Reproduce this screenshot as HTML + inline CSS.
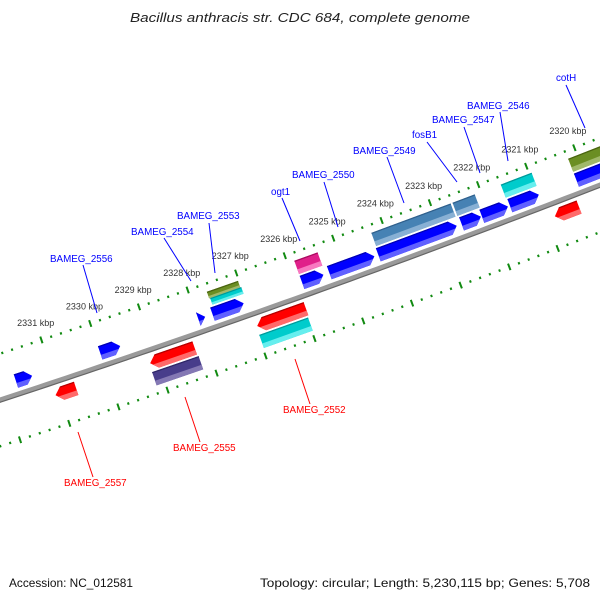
<!DOCTYPE html>
<html><head><meta charset="utf-8"><style>
html,body{margin:0;padding:0;background:#fff}
svg{display:block}
text{font-family:"Liberation Sans","DejaVu Sans",sans-serif}
</style></head><body>
<svg id="map" width="600" height="600" viewBox="0 0 600 600" xmlns="http://www.w3.org/2000/svg">
<text x="300" y="22" text-anchor="middle" font-size="12.5" font-style="italic" fill="#222" textLength="340" lengthAdjust="spacingAndGlyphs">Bacillus anthracis str. CDC 684, complete genome</text>
<g id="ticks"></g>
<g id="backbone"></g>
<g id="genes"></g>
<g id="labels"></g>
<text x="9" y="587" font-size="12" fill="#111" textLength="124" lengthAdjust="spacingAndGlyphs">Accession: NC_012581</text>
<text x="260" y="587" font-size="12" fill="#111" textLength="330" lengthAdjust="spacingAndGlyphs">Topology: circular; Length: 5,230,115 bp; Genes: 5,708</text>
</svg>
<script>
// ---- data (kbp) ----
const tickLabelKbp = [2320,2321,2322,2323,2324,2325,2326,2327,2328,2329,2330,2331];
const geneStart = [2331.39,2330.66,2329.59,2328.24,2328.22,2327.85,2327.06,2327.02,2327.00,2325.96,2325.98,2325.38,2325.42,2324.37,2322.63,2322.67,2322.13,2322.17,2321.61,2320.95,2320.97,2318.50,2318.50,2320.33];
const geneEnd   = [2331.72,2331.08,2330.00,2329.15,2329.17,2327.99,2327.70,2327.66,2327.64,2326.96,2326.98,2325.86,2325.86,2325.30,2324.27,2324.29,2322.59,2322.57,2322.15,2321.59,2321.57,2320.19,2320.19,2320.83];
const geneLane  = ["A","C","A","C","D","A","A","B2","B1","C","D","B","A","A","B","A","B","A","A","B","A","B","A","C"];
const geneColor = ["blue","red","blue","red","purple","blue","blue","olive","cyan","red","cyan","pink","blue","blue","steel","blue","steel","blue","blue","cyan","blue","olive","blue","red"];
const geneShape = ["fwd","rev","fwd","rev","box","fwd","fwd","box","box","rev","box","box","fwd","fwd","box","fwd","box","fwd","fwd","box","fwd","box","fwd","rev"];
const labelText = ["BAMEG_2556","BAMEG_2554","BAMEG_2553","ogt1","BAMEG_2550","BAMEG_2549","fosB1","BAMEG_2547","BAMEG_2546","cotH","BAMEG_2552","BAMEG_2555","BAMEG_2557"];
const labelColor= ["#0000ff","#0000ff","#0000ff","#0000ff","#0000ff","#0000ff","#0000ff","#0000ff","#0000ff","#0000ff","#ff0000","#ff0000","#ff0000"];

// ---- styles ----
const baseCol={blue:"#0000ff",red:"#ff0000",cyan:"#00cccc",olive:"#6b8e23",steel:"#4682b4",pink:"#e0208a",purple:"#483d8b"};
const lightCol={blue:"#6060ff",red:"#ff6a6a",cyan:"#66eeee",olive:"#a0b86a",steel:"#88b0d4",pink:"#f878c0",purple:"#8478b4"};
const darkCol={blue:"#0000b0",red:"#b00000",cyan:"#009999",olive:"#4a6410",steel:"#30608c",pink:"#a80c60",purple:"#2e2666"};

// ---- layout ----
const NS="http://www.w3.org/2000/svg";
function circ(a,b,c){const d=2*(a[0]*(b[1]-c[1])+b[0]*(c[1]-a[1])+c[0]*(a[1]-b[1]));
 const s=p=>p[0]*p[0]+p[1]*p[1];
 return [(s(a)*(b[1]-c[1])+s(b)*(c[1]-a[1])+s(c)*(a[1]-b[1]))/d,(s(a)*(c[0]-b[0])+s(b)*(a[0]-c[0])+s(c)*(b[0]-a[0]))/d];}
const P0=[0,400],P1=[300,297],P2=[600,185];
const C=circ(P0,P1,P2);
const R=Math.hypot(P0[0]-C[0],P0[1]-C[1]);
const phiA=Math.atan2(P0[1]-C[1],P0[0]-C[0]);
const K0=2330,U0=110,PX=51.7;
function uOf(k){return U0+(K0-k)*PX;}
function pt(u,v){const f=phiA-u/R;return [C[0]+(R+v)*Math.cos(f),C[1]+(R+v)*Math.sin(f)];}
function P(u,v){const p=pt(u,v);return p[0].toFixed(2)+","+p[1].toFixed(2);}
function mk(tag,attrs,parent){const e=document.createElementNS(NS,tag);for(const k in attrs)e.setAttribute(k,attrs[k]);parent.appendChild(e);return e;}

// ticks
const tg=document.getElementById('ticks');
[-44,44].forEach(function(rv){
 for(let i=0;i<=75;i++){
  const k=2317.6+i*0.2;
  const u=uOf(k);
  if(u<-30||u>720) continue;
  const major=Math.abs(k-Math.round(k))<0.01;
  const h=major?3.5:1.2;
  const a=pt(u,rv-h),b=pt(u,rv+h);
  const ln=mk('line',{x1:a[0],y1:a[1],x2:b[0],y2:b[1],stroke:'#118a11','stroke-width':2},tg);
  
  
 }
});
tickLabelKbp.forEach(function(k){
 const p=pt(uOf(k),-62);
 const t=mk('text',{x:p[0],y:p[1]+3,'text-anchor':'middle','font-size':'9',fill:'#333'},tg);
 t.textContent=k+" kbp";
 
 
});

// backbone
const bg=document.getElementById('backbone');
let d1="",d2="";
for(let u=-40;u<=720;u+=10){d1+=(u===-40?"M":"L")+P(u,0);d2+=(u===-40?"M":"L")+P(u,2.2);}
const b1=mk('path',{d:d1,fill:'none',stroke:'#9a9a9a','stroke-width':5},bg);


const b2=mk('path',{d:d2,fill:'none',stroke:'#666','stroke-width':1.2},bg);



// genes
const lanes={A:[-20,-6],B:[-36,-22],B2:[-36,-29],B1:[-29,-22],C:[6,20],D:[22,36]};
const gg=document.getElementById('genes');
for(let i=0;i<geneStart.length;i++){
 const uL=uOf(geneEnd[i]),uR=uOf(geneStart[i]);
 const L=lanes[geneLane[i]],v1=L[0],v2=L[1],vm=(v1+v2)/2;
 const vb=v2-0.35*(v2-v1);
 const ah=Math.min(7,(uR-uL));
 const fr=(vb-vm)/(v2-vm);
 let pts,band,top;
 if(geneShape[i]==="fwd"){
  pts=[P(uL,v1),P(uR-ah,v1),P(uR,vm),P(uR-ah,v2),P(uL,v2)];
  band=[P(uL,vb),P(uR-ah*fr,vb),P(uR-ah,v2),P(uL,v2)];
  top=[P(uL,v1),P(uR-ah,v1),P(uR-ah*0.85,v1+1.2),P(uL,v1+1.2)];
 } else if(geneShape[i]==="rev"){
  pts=[P(uL,vm),P(uL+ah,v1),P(uR,v1),P(uR,v2),P(uL+ah,v2)];
  band=[P(uL+ah*fr,vb),P(uR,vb),P(uR,v2),P(uL+ah,v2)];
  top=[P(uL+ah,v1),P(uR,v1),P(uR,v1+1.2),P(uL+ah*0.85,v1+1.2)];
 } else {
  pts=[P(uL,v1),P(uR,v1),P(uR,v2),P(uL,v2)];
  band=[P(uL,vb),P(uR,vb),P(uR,v2),P(uL,v2)];
  top=[P(uL,v1),P(uR,v1),P(uR,v1+1.2),P(uL,v1+1.2)];
 }
 const c=geneColor[i];
 const pg=mk('polygon',{points:pts.join(" "),fill:baseCol[c]},gg);
 
 
 const bd=mk('polygon',{points:band.join(" "),fill:lightCol[c]},gg);
 
 
 const tp=mk('polygon',{points:top.join(" "),fill:darkCol[c]},gg);
 
 
}

// labels (pixel layout: text x,y and connector endpoints)
const labelPos=[[50,262,83,265,97,313],[131,235,164,238,191,281],[177,219,209,223,215,273],[271,195,282,198,300,241],[292,178,324,182,338,227],[353,154,387,157,404,203],[412,138,427,142,457,182],[432,123,464,127,480,173],[467,109,500,112,508,161],[556,81,566,85,585,128],[283,413,310,404,295,359],[173,451,200,442,185,397],[64,486,93,477,78,432]];
const lg=document.getElementById('labels');
labelText.forEach(function(s,i){
 const q=labelPos[i];
 const ln=mk('line',{x1:q[2],y1:q[3],x2:q[4],y2:q[5],stroke:labelColor[i],'stroke-width':1},lg);
 
 
 const t=mk('text',{x:q[0],y:q[1],'font-size':'9.8',fill:labelColor[i]},lg);
 t.textContent=s;
 
 
});
</script>
</body></html>
